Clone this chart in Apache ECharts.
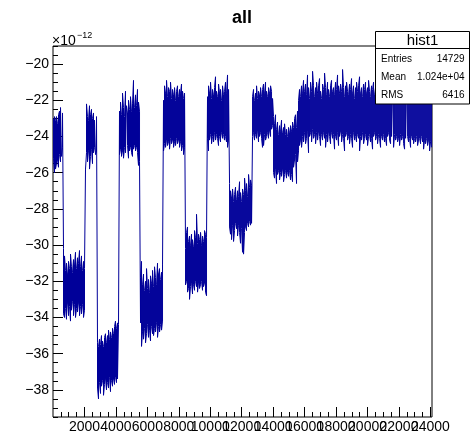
<!DOCTYPE html>
<html>
<head>
<meta charset="utf-8">
<script src="https://cdn.jsdelivr.net/npm/echarts@6/dist/echarts.min.js"></script>
<style>
  html, body { margin: 0; padding: 0; background: #fff; }
  #chart { width: 470px; height: 435px; }
</style>
</head>
<body>
<div id="chart"></div>
<script>
// Histogram "hist1": per-column extremes (max / min) of the readout, in units of 1e-12.
const binWidth = 63.6;          // x units covered by one sample column
const xMin = 0, xMax = 24100;
const yMin = -39.5, yMax = -19.0;

const maxA = [-23.0, -22.9, -23.1, -22.9, -23.3, -22.8, -22.6, -22.4, -22.5, -22.7];
const minA = [-25.2, -26.0, -25.8, -25.5, -25.3, -25.7, -25.0, -25.4, -25.1, -24.6];

const maxB = [-30.2, -30.6, -31.4, -31.0, -31.6, -30.9, -31.3, -30.5, -31.2, -31.5,
              -30.8, -31.1, -30.4, -31.3, -30.7, -31.0, -30.3, -31.2, -30.6, -31.4, -30.9, -31.3];
const minB = [-33.8, -34.0, -33.5, -34.1, -33.2, -33.9, -33.4, -34.2, -33.6, -33.1,
              -33.9, -33.3, -34.0, -33.5, -33.7, -33.2, -33.9, -33.4, -33.8, -33.3, -34.0, -33.6];

const maxStep = [-25.8];
const minStep = [-25.8];

const maxC = [-22.2, -22.9, -23.1, -22.3, -22.8, -22.5, -23.0, -22.7, -23.1, -23.0, -22.9];
const minC = [-24.9, -25.4, -24.8, -25.8, -25.1, -24.7, -25.5, -24.9, -24.6, -25.0, -24.8];

const maxD = [-35.4, -35.6, -35.2, -35.5, -35.0, -35.3, -35.6, -35.1, -34.9, -35.4,
              -35.0, -34.7, -35.2, -34.8, -35.1, -34.6, -34.9, -34.5, -34.2, -34.6, -34.3, -34.4];
const minD = [-37.9, -38.5, -37.6, -38.2, -37.8, -37.5, -38.3, -37.7, -37.4, -38.0,
              -37.6, -37.9, -37.3, -38.1, -37.5, -37.8, -37.4, -37.7, -37.3, -37.6, -37.4, -37.5];

const maxE = [-22.6, -22.1, -22.8, -21.6, -22.4, -22.9, -21.5, -22.3, -22.7, -22.0,
              -22.5, -21.8, -22.6, -22.2, -20.9, -22.4, -21.7, -22.3, -21.4, -22.1, -22.6];
const minE = [-25.0, -24.7, -25.1, -24.8, -25.2, -24.6, -24.9, -25.0, -24.5, -25.2,
              -24.8, -24.6, -24.9, -25.1, -24.7, -24.5, -24.8, -24.6, -24.9, -25.6, -25.4];

const maxF = [-31.8, -30.9, -32.2, -31.6, -32.5, -32.0, -31.3, -32.4, -31.9, -32.6,
              -31.7, -32.1, -31.4, -32.3, -31.2, -31.8, -32.2, -31.0, -31.6, -31.3, -31.9, -31.5, -31.1];
const minF = [-34.3, -35.6, -34.8, -35.2, -34.6, -35.4, -34.9, -34.4, -35.1, -34.7,
              -35.3, -34.5, -34.9, -35.0, -34.6, -34.8, -34.3, -35.1, -34.5, -34.8, -34.4, -34.7, -34.2];

const maxG = [-22.0, -21.2, -21.6, -20.9, -21.8, -21.3, -21.5, -21.0, -21.9, -21.4,
              -21.7, -21.3, -22.0, -21.5, -21.2, -21.8, -21.4, -21.6, -21.1, -21.5, -21.9, -21.6];
const minG = [-24.8, -24.4, -24.6, -24.2, -24.5, -24.3, -24.7, -24.1, -24.4, -24.2,
              -24.6, -24.3, -24.5, -24.1, -24.4, -24.2, -24.6, -24.3, -24.8, -24.5, -25.0, -24.6];

const maxH = [-30.2, -29.3, -29.0, -29.8, -29.5, -30.0, -29.4, -29.7, -30.1, -29.2,
              -29.6, -28.3, -29.9, -29.4, -29.7, -29.3, -30.0, -29.5, -29.8, -29.2, -29.4, -29.6];
const minH = [-32.2, -32.0, -32.6, -32.4, -33.0, -32.3, -32.1, -32.7, -32.2, -32.5,
              -32.0, -32.3, -32.6, -32.1, -32.4, -32.2, -32.0, -32.5, -32.3, -32.1, -32.6, -32.8];

const maxI = [-21.8, -21.2, -21.6, -21.0, -21.9, -21.4, -21.7, -21.3, -20.7, -21.5,
              -21.8, -21.1, -21.6, -21.4, -22.0, -21.2, -21.7, -21.5, -21.0, -21.6, -20.6, -21.4];
const minI = [-24.1, -24.8, -24.2, -23.9, -24.4, -24.0, -24.3, -23.8, -24.2, -23.9,
              -24.1, -24.5, -24.0, -24.3, -23.8, -24.1, -23.9, -24.2, -24.0, -24.3, -24.6, -24.2];

const maxJ = [-26.6, -27.0, -27.4, -26.9, -27.6, -27.2, -26.8, -27.5, -27.0, -27.3,
              -26.5, -27.1, -27.6, -26.9, -27.2, -26.3, -27.0, -26.6, -27.3, -26.1, -26.8, -26.4, -26.7];
const minJ = [-29.0, -29.4, -29.7, -28.9, -29.8, -29.2, -28.8, -29.1, -29.5, -28.9,
              -29.3, -29.9, -29.1, -30.4, -30.5, -29.3, -29.0, -29.2, -28.8, -29.0, -28.7, -28.9, -28.8];

const maxK = [-21.8, -21.4, -22.0, -21.6, -21.2, -21.9, -21.5, -21.7, -21.3, -21.8,
              -21.4, -21.1, -21.6, -21.0, -21.5, -21.8, -21.3, -21.6, -21.2, -21.5, -21.9];
const minK = [-24.0, -23.8, -24.2, -23.9, -24.1, -23.7, -24.3, -24.0, -23.8, -24.1,
              -24.6, -24.5, -23.9, -24.2, -24.0, -23.8, -24.1, -23.7, -24.0, -23.6, -23.4];

const maxL = [-22.9, -23.3, -22.8, -23.6, -23.2, -23.9, -23.4, -23.7, -23.1, -23.8,
              -23.5, -23.3, -23.9, -23.6, -24.0, -23.5, -23.8, -23.4, -23.7, -23.2, -23.5, -23.0, -22.8];
const minL = [-26.0, -26.3, -25.8, -26.6, -26.1, -25.9, -26.4, -26.0, -26.2, -25.8,
              -26.5, -26.1, -25.9, -26.3, -26.0, -26.2, -25.9, -26.4, -26.1, -26.5, -25.7, -25.3, -25.0];

const maxM = [
  -23.5, -22.6, -22.0, -21.4, -21.8, -21.2, -21.6, -20.9, -21.5, -21.1,
  -21.7, -20.6, -21.3, -21.9, -21.0, -21.5, -20.4, -21.2, -21.8, -21.3,
  -21.0, -21.6, -21.2, -20.8, -21.5, -21.9, -21.1, -21.4, -20.5, -21.3,
  -21.7, -21.0, -21.4, -21.8, -21.2, -20.9, -21.5, -21.3, -21.7, -21.0,
  -21.4, -20.6, -21.2, -21.6, -21.1, -21.5, -20.3, -21.3, -21.8, -21.2,
  -21.0, -21.5, -21.7, -21.1, -21.4, -20.8, -21.6, -21.2, -21.9, -21.3,
  -21.0, -21.5, -21.2, -20.7, -21.6, -21.3, -21.8, -21.1, -21.4, -21.0,
  -21.6, -21.3, -20.9, -21.5, -21.8, -21.2, -21.4, -21.0, -21.7, -21.3,
  -21.5, -21.1, -21.8, -21.4, -20.8, -21.6, -21.2, -21.9, -21.5, -21.3,
  -21.7, -21.1, -21.4, -21.0, -21.6, -21.3, -21.8, -21.2, -21.5, -21.9,
  -21.3, -21.6, -21.1, -21.7, -21.4, -21.2, -21.8, -21.5, -21.3, -21.9,
  -21.6, -21.4, -21.8, -21.2, -21.5, -21.9, -21.3, -21.7, -21.4, -22.0,
  -21.6, -21.3, -21.8, -21.5, -21.9, -21.4, -21.7, -22.0, -21.5, -21.8,
  -21.6, -22.1, -21.7, -21.9, -22.2, -21.8
];
const minM = [
  -26.6, -25.4, -24.8, -24.5, -24.2, -24.6, -24.0, -24.3, -23.8, -24.4,
  -24.1, -23.7, -24.9, -24.0, -23.8, -24.3, -23.6, -24.1, -23.9, -24.4,
  -23.8, -24.2, -23.7, -24.0, -24.5, -23.9, -24.2, -23.8, -24.1, -24.6,
  -23.9, -24.3, -23.7, -24.0, -24.4, -23.8, -24.1, -23.9, -24.7, -24.0,
  -24.2, -23.8, -24.5, -24.0, -23.7, -24.3, -23.9, -24.1, -24.8, -24.0,
  -23.8, -24.2, -24.0, -24.4, -23.9, -24.1, -24.6, -23.8, -24.2, -24.0,
  -24.3, -23.9, -24.1, -24.8, -24.0, -24.2, -23.8, -24.4, -24.1, -23.9,
  -24.2, -24.5, -24.0, -23.9, -24.3, -24.1, -24.7, -24.0, -23.8, -24.2,
  -24.0, -24.4, -23.9, -24.1, -24.6, -24.0, -24.2, -23.9, -24.3, -24.1,
  -24.5, -24.0, -23.8, -24.2, -24.4, -24.0, -24.1, -24.6, -23.9, -24.2,
  -24.0, -24.3, -24.1, -24.5, -23.9, -24.2, -24.0, -24.4, -24.7, -24.1,
  -24.2, -24.0, -24.3, -24.1, -24.6, -24.0, -24.2, -24.4, -24.1, -24.3,
  -24.0, -24.5, -24.2, -24.1, -24.4, -24.0, -24.3, -24.7, -24.2, -24.4,
  -24.1, -24.5, -24.2, -24.8, -24.3, -24.6
];

// Tick positions
const xMajorTicks = [2000, 4000, 6000, 8000, 10000, 12000, 14000, 16000, 18000, 20000, 22000, 24000];
const xMinorTicks = [];
for (let v = 500; v <= 24000; v += 500) xMinorTicks.push(v);
const yMajorTicks = [-38, -36, -34, -32, -30, -28, -26, -24, -22, -20];
const yMinorTicks = [];
for (let v = -39.5; v <= -19.0; v += 0.5) yMinorTicks.push(+v.toFixed(1));
// The x labels sit edge to edge; split them over the two stacked axes so none gets dropped.
const xLabelsOdd = xMajorTicks.filter((v, i) => i % 2 === 0);
const xLabelsEven = xMajorTicks.filter((v, i) => i % 2 === 1);

// Stats box entries
const statsTitle = 'hist1';
const statsLabels = ['Entries', 'Mean', 'RMS'];
const statsValues = ['14729', '1.024e+04', '6416'];

// Build the trace: each column drawn as a vertical stroke between its min and max,
// alternating direction so neighbouring columns join along the band edges.
const maxRuns = [maxA, maxB, maxStep, maxC, maxD, maxE, maxF, maxG, maxH, maxI, maxJ, maxK, maxL, maxM];
const minRuns = [minA, minB, minStep, minC, minD, minE, minF, minG, minH, minI, minJ, minK, minL, minM];
const trace = [];
let col = 0;
maxRuns.forEach((hiRun, r) => {
  const loRun = minRuns[r];
  hiRun.forEach((hi, i) => {
    const lo = loRun[i];
    const x = (col + 0.5) * binWidth;
    if (col % 2 === 0) { trace.push([x, hi], [x, lo]); }
    else { trace.push([x, lo], [x, hi]); }
    col++;
  });
});

const FONT = '"Liberation Sans", Arial, Helvetica, sans-serif';
const minus = v => String(v).replace('-', '\u2212');
const plain = v => String(v);
const xLabelStyle = { color: '#000', fontSize: 14, fontFamily: FONT, margin: 3, formatter: plain,
                      hideOverlap: false, showMinLabel: true, showMaxLabel: true };

const chart = echarts.init(document.getElementById('chart'), null, { renderer: 'canvas' });
chart.setOption({
  animation: false,
  backgroundColor: '#fff',
  grid: {
    left: 53, right: 38, top: 46, bottom: 18,
    show: true, borderColor: '#000', borderWidth: 1, backgroundColor: 'transparent'
  },
  xAxis: [
    {
      type: 'value', min: xMin, max: xMax, position: 'bottom',
      axisLine: { show: false }, splitLine: { show: false },
      axisTick: { show: true, inside: true, length: 5, customValues: xMinorTicks, lineStyle: { color: '#000', width: 1 } },
      axisLabel: Object.assign({ customValues: xLabelsOdd }, xLabelStyle)
    },
    {
      type: 'value', min: xMin, max: xMax, position: 'bottom',
      axisLine: { show: false }, splitLine: { show: false },
      axisTick: { show: true, inside: true, length: 10, customValues: xMajorTicks, lineStyle: { color: '#000', width: 1 } },
      axisLabel: Object.assign({ customValues: xLabelsEven }, xLabelStyle)
    }
  ],
  yAxis: [
    {
      type: 'value', min: yMin, max: yMax, position: 'left',
      axisLine: { show: false }, splitLine: { show: false },
      axisTick: { show: true, inside: true, length: 5, customValues: yMinorTicks, lineStyle: { color: '#000', width: 1 } },
      axisLabel: { customValues: yMajorTicks, color: '#000', fontSize: 14, fontFamily: FONT, margin: 4,
                   formatter: minus, hideOverlap: false }
    },
    {
      type: 'value', min: yMin, max: yMax, position: 'left',
      axisLine: { show: false }, splitLine: { show: false },
      axisTick: { show: true, inside: true, length: 10, customValues: yMajorTicks, lineStyle: { color: '#000', width: 1 } },
      axisLabel: { show: false }
    }
  ],
  series: [{
    type: 'line',
    xAxisIndex: 0, yAxisIndex: 0,
    data: trace,
    showSymbol: false,
    symbol: 'none',
    clip: true,
    sampling: null,
    lineStyle: { color: '#000099', width: 1 },
    z: 2
  }],
  graphic: [
    { type: 'text', x: 242, y: 18.5, z: 50,
      style: { text: 'all', fill: '#000', font: 'bold 18px ' + FONT, align: 'center', verticalAlign: 'middle' } },
    { type: 'text', x: 52, y: 41, z: 50,
      style: { text: '\u00d710', fill: '#000', font: '14px ' + FONT, align: 'left', verticalAlign: 'middle' } },
    { type: 'text', x: 77, y: 36, z: 50,
      style: { text: '\u221212', fill: '#000', font: '9px ' + FONT, align: 'left', verticalAlign: 'middle' } },
    { type: 'rect', z: 100,
      shape: { x: 375.5, y: 31.5, width: 94, height: 72.5 },
      style: { fill: '#fff', stroke: '#000', lineWidth: 1 } },
    { type: 'line', z: 101,
      shape: { x1: 375.5, y1: 48.5, x2: 469.5, y2: 48.5 },
      style: { stroke: '#000', lineWidth: 1 } },
    { type: 'text', x: 422.5, y: 40.5, z: 102,
      style: { text: statsTitle, fill: '#000', font: '15px ' + FONT, align: 'center', verticalAlign: 'middle' } },
    ...statsLabels.map((t, i) => ({
      type: 'text', x: 381, y: 59 + i * 18, z: 102,
      style: { text: t, fill: '#000', font: '10px ' + FONT, align: 'left', verticalAlign: 'middle' }
    })),
    ...statsValues.map((t, i) => ({
      type: 'text', x: 464.5, y: 59 + i * 18, z: 102,
      style: { text: t, fill: '#000', font: '10px ' + FONT, align: 'right', verticalAlign: 'middle' }
    }))
  ]
});
</script>
</body>
</html>
